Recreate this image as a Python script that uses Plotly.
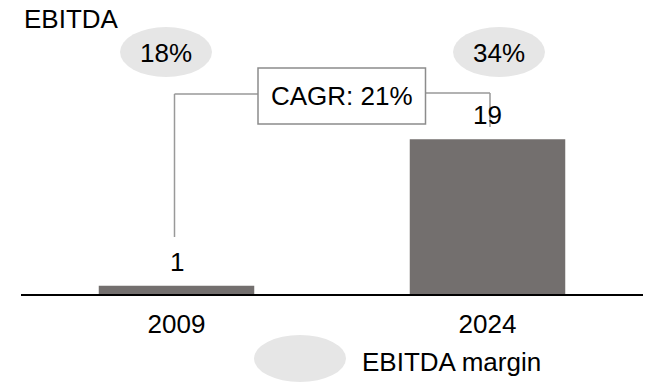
import plotly.graph_objects as go

# --- data ---
years = ["2009", "2024"]
ebitda = [1, 19]
margin_pct = [18, 34]
cagr_text = "CAGR: 21%"
title_text = "EBITDA"
legend_text = "EBITDA margin"

# --- layout geometry (pixels) ---
W, H = 646, 382
ML, MR, MT, MB = 21, 3, 0, 88
plot_w = W - ML - MR
plot_h = H - MT - MB
px_per_unit = 8.14
y_top = plot_h / px_per_unit

BAR_COLOR = "#736f6e"
ELLIPSE_COLOR = "#e6e6e6"
LINE_COLOR = "#999999"
FONT = "Liberation Sans, Arial, sans-serif"
FS = 26


def px2x(px):
    return (px - ML) / plot_w * 2 - 0.5


def py2y(py):
    return (MT + plot_h - py) / px_per_unit


def py2paper(py):
    return (MT + plot_h - py) / plot_h


fig = go.Figure()
fig.add_trace(go.Bar(
    x=list(range(len(years))), y=ebitda,
    marker=dict(color=BAR_COLOR, line=dict(width=0)),
    hoverinfo="skip",
))

shapes = []
annotations = []

# value labels above bars
for i, v in enumerate(ebitda):
    annotations.append(dict(
        x=i, y=v, xref="x", yref="y", text=str(v), showarrow=False,
        yanchor="middle", yshift=24, font=dict(size=FS, color="#000000"),
    ))

# margin ellipses above each bar
ell_offsets = [-10.5, 11.5]
for i, (m, off) in enumerate(zip(margin_pct, ell_offsets)):
    cx = 176.5 + i * 311 + off
    shapes.append(dict(
        type="circle", xref="x", yref="y",
        x0=px2x(cx - 46), x1=px2x(cx + 46), y0=py2y(27), y1=py2y(77),
        fillcolor=ELLIPSE_COLOR, line=dict(width=0), layer="below",
    ))
    annotations.append(dict(
        x=px2x(cx), y=py2y(53), xref="x", yref="y", text=f"{m}%",
        showarrow=False, font=dict(size=FS, color="#000000"),
    ))

# CAGR connector lines
shapes += [
    dict(type="line", xref="x", yref="y", x0=px2x(174.5), x1=px2x(174.5),
         y0=py2y(237), y1=py2y(94), line=dict(color=LINE_COLOR, width=1.5)),
    dict(type="line", xref="x", yref="y", x0=px2x(174.5), x1=px2x(258),
         y0=py2y(94), y1=py2y(94), line=dict(color=LINE_COLOR, width=1.5)),
    dict(type="line", xref="x", yref="y", x0=px2x(425), x1=px2x(490),
         y0=py2y(93), y1=py2y(93), line=dict(color=LINE_COLOR, width=1.5)),
    dict(type="line", xref="x", yref="y", x0=px2x(490), x1=px2x(490),
         y0=py2y(93), y1=py2y(127), line=dict(color=LINE_COLOR, width=1.5)),
]
# CAGR box
shapes.append(dict(
    type="rect", xref="x", yref="y",
    x0=px2x(258), x1=px2x(425.5), y0=py2y(124), y1=py2y(68),
    fillcolor="#ffffff", line=dict(color="#8c8c8c", width=1.5),
))
annotations.append(dict(
    x=px2x(342), y=py2y(96), xref="x", yref="y", text=cagr_text,
    showarrow=False, font=dict(size=FS, color="#000000"),
))

# title
annotations.append(dict(
    x=(22 - ML) / plot_w, y=py2paper(19), xref="paper", yref="paper",
    text=title_text, showarrow=False, xanchor="left", yanchor="middle",
    font=dict(size=FS, color="#000000"),
))

# legend: ellipse + label
shapes.append(dict(
    type="circle", xref="paper", yref="paper",
    x0=(254 - ML) / plot_w, x1=(346 - ML) / plot_w,
    y0=py2paper(335), y1=py2paper(382),
    fillcolor=ELLIPSE_COLOR, line=dict(width=0),
))
annotations.append(dict(
    x=(360 - ML) / plot_w, y=py2paper(362), xref="paper", yref="paper",
    text=legend_text, showarrow=False, xanchor="left", yanchor="middle",
    font=dict(size=FS, color="#000000"),
))

fig.update_layout(
    width=W, height=H,
    margin=dict(l=ML, r=MR, t=MT, b=MB, pad=0),
    paper_bgcolor="#ffffff", plot_bgcolor="#ffffff",
    bargap=0.5, showlegend=False,
    font=dict(family=FONT, size=FS, color="#000000"),
    shapes=shapes, annotations=annotations,
    xaxis=dict(
        range=[-0.5, 1.5], showgrid=False, zeroline=False,
        tickmode="array", tickvals=list(range(len(years))), ticktext=years,
        showline=True, linecolor="#000000", linewidth=2, ticks="",
        ticklabelstandoff=6,
        tickfont=dict(size=FS, color="#000000"), fixedrange=True,
    ),
    yaxis=dict(
        range=[0, y_top], visible=False, showgrid=False, zeroline=False,
        fixedrange=True,
    ),
)

fig.write_html("out.html", config={"displayModeBar": False})
